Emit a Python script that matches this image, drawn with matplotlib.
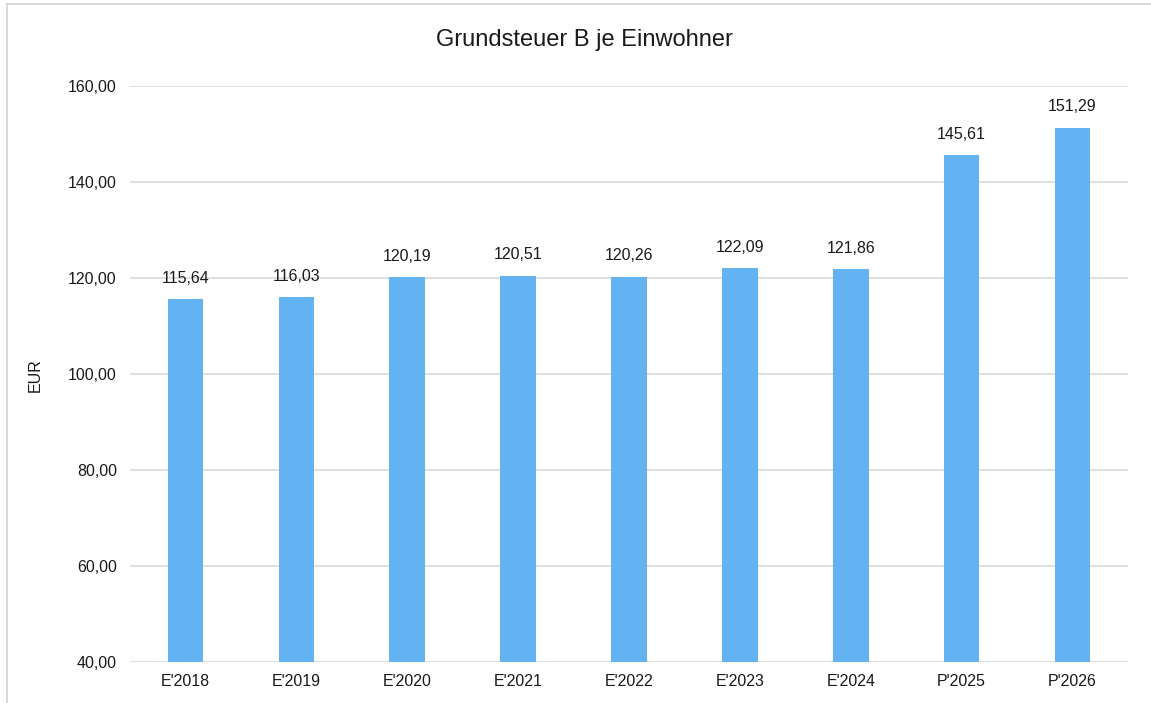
import matplotlib
matplotlib.use("Agg")
import matplotlib.pyplot as plt
from matplotlib.patches import Rectangle

categories = ["E'2018", "E'2019", "E'2020", "E'2021", "E'2022", "E'2023", "E'2024", "P'2025", "P'2026"]
values = [115.64, 116.03, 120.19, 120.51, 120.26, 122.09, 121.86, 145.61, 151.29]
yticks = [40, 60, 80, 100, 120, 140, 160]

plt.rcParams['font.family'] = ['Liberation Sans', 'DejaVu Sans']

W, H = 1151, 703
fig = plt.figure(figsize=(W/100, H/100), dpi=100)
ax = fig.add_axes([130/W, 1-662/H, (1128-130)/W, (662-86)/H])

TXT = '#1a1a1a'
x = list(range(len(categories)))
ax.bar(x, values, width=0.32, color='#63B3F3', zorder=3)
ax.set_xlim(-0.5, len(categories)-0.5)
ax.set_ylim(40, 160)
ax.set_yticks(yticks)
ax.set_yticklabels([f"{v:.2f}".replace('.', ',') for v in yticks], fontsize=11.5, color=TXT)
ax.set_xticks(x)
ax.set_xticklabels(categories, fontsize=11.5, color=TXT)
ax.tick_params(axis='both', length=0)
ax.tick_params(axis='y', pad=9.5)
ax.tick_params(axis='x', pad=9)
ax.grid(axis='y', color='#d9d9d9', linewidth=1.2, zorder=0)
for s in ax.spines.values():
    s.set_visible(False)

for xi, v in zip(x, values):
    ax.annotate(f"{v:.2f}".replace('.', ','), (xi, v), xytext=(0, 15), textcoords='offset points',
                ha='center', va='center', fontsize=11.5, color=TXT, zorder=4)

fig.text(35/W, 1-375/H, "EUR", rotation=90, ha='center', va='center', fontsize=11.5, color=TXT)

fig.text(584/W, 1-40/H, "Grundsteuer B je Einwohner", ha='center', va='center', fontsize=17, color=TXT)

fig.patches.append(Rectangle((7/W, -0.1), 1.2, 1-4/H+0.1, transform=fig.transFigure,
                             fill=False, edgecolor='#d9d9d9', linewidth=1.5))

fig.savefig("out.png", dpi=100)
